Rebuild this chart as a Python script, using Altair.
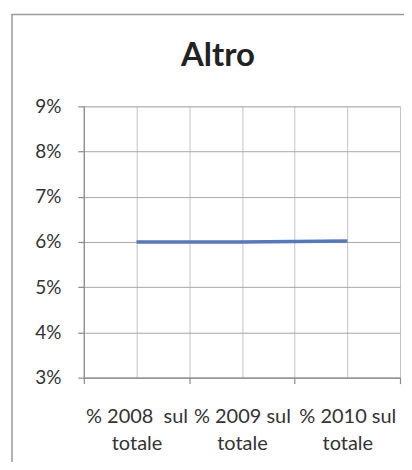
import json
import numpy as np
import pandas as pd
import altair as alt

categories = ["% 2008  sul totale", "% 2009 sul totale", "% 2010 sul totale"]
values = [0.0600, 0.0600, 0.0602]
y_ticks = [0.03, 0.04, 0.05, 0.06, 0.07, 0.08, 0.09]

df = pd.DataFrame({"cat": categories, "val": values})
df["pos"] = np.arange(len(categories)) + 0.5

x_grid_vals = [i * 0.5 for i in range(2 * len(categories) + 1)]
parts = []
for i, c in enumerate(categories):
    a, b = c.rsplit(" ", 1)
    a = a.replace("  ", " \u00a0")
    parts.append(f"datum.value == {i + 0.5} ? {json.dumps([a, b])}")
label_expr = " : ".join(parts) + " : ''"

FONT = "Lato"

line = alt.Chart(df).mark_line(color="#5578c4", strokeWidth=3.5).encode(
    x=alt.X(
        "pos:Q",
        scale=alt.Scale(domain=[0, len(categories)], nice=False),
        axis=alt.Axis(
            title=None,
            values=x_grid_vals,
            labelExpr=label_expr,
            grid=True,
            gridColor="#c4c4c4",
            gridWidth=1,
            domainColor="#8a8a8a",
            domainWidth=1.2,
            tickSize=6,
            tickWidth=1.2,
            tickColor={"condition": {"test": "datum.value % 1 == 0", "value": "#8a8a8a"}, "value": "transparent"},
            labelFont=FONT,
            labelFontSize=20,
            labelColor="#333333",
            labelPadding=23,
            labelLineHeight=27,
            labelLimit=0,
            labelAngle=0,
            labelFlush=False,
            labelOverlap=False,
        ),
    ),
    y=alt.Y(
        "val:Q",
        scale=alt.Scale(domain=[0.03, 0.09], nice=False),
        axis=alt.Axis(
            title=None,
            values=y_ticks,
            format=".0%",
            grid=True,
            gridColor="#a8a8a8",
            gridWidth=1,
            domainColor="#8a8a8a",
            domainWidth=1.2,
            tickSize=6,
            tickWidth=1.2,
            tickColor="#8a8a8a",
            labelFont=FONT,
            labelFontSize=19,
            labelColor="#333333",
            labelPadding=17,
        ),
    ),
)

frame = alt.Chart(alt.Data(values=[{}])).mark_rect(
    fill=None, stroke="#9a9a9a", strokeWidth=1.5
).encode(
    x=alt.value(-72), x2=alt.value(340), y=alt.value(-92), y2=alt.value(380)
)

chart = alt.layer(frame, line).properties(
    width=317,
    height=272,
    title=alt.TitleParams(
        "Altro", font=FONT, fontSize=33, fontWeight="bold", color="#222222",
        anchor="middle", frame="group", offset=-59, dx=-24,
    ),
    autosize=alt.AutoSizeParams(type="none"),
    padding={"left": 76, "top": 98, "right": 4, "bottom": 84},
).configure_view(stroke=None).configure(background="white")

chart.save("out.html", embed_options={"renderer": "svg", "actions": False})
